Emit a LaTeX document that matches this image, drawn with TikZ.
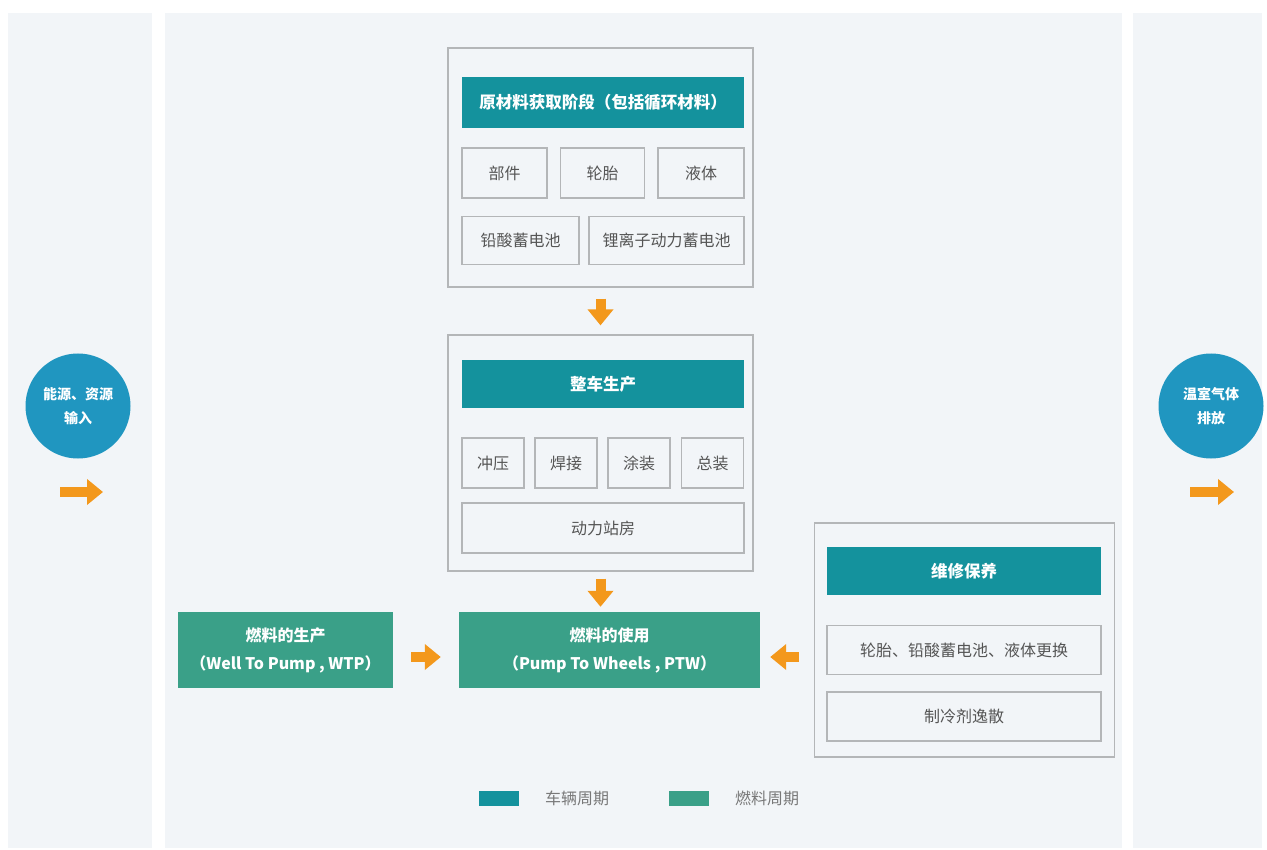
\documentclass[tikz,border=0pt]{standalone}
\usepackage{fontspec}
\setmainfont{Noto Sans CJK SC}
\usetikzlibrary{arrows.meta}
\definecolor{panel}{RGB}{242,245,248}
\definecolor{vteal}{RGB}{20,146,157}
\definecolor{fgreen}{RGB}{58,160,136}
\definecolor{cblue}{RGB}{32,150,192}
\definecolor{aorange}{RGB}{243,152,28}
\definecolor{bline}{RGB}{180,182,184}
\definecolor{tgray}{RGB}{85,85,85}
\definecolor{lgray}{RGB}{120,120,120}
\begin{document}
\begin{tikzpicture}[x=1pt,y=-1pt,
  bgpanel/.style={fill=panel,draw=none},
  outer/.style={draw=bline,line width=1.2pt,fill=panel},
  hdr/.style={fill=vteal,text=white,font=\fontsize{16.5}{20}\selectfont\bfseries,inner sep=0pt},
  item/.style={draw=bline,line width=1.2pt,fill=panel,text=tgray,font=\fontsize{16}{20}\selectfont,inner sep=0pt},
  fuel/.style={fill=fgreen,text=white,font=\fontsize{16}{28}\selectfont\bfseries,align=center,inner sep=0pt},
  circ/.style={circle,fill=cblue,text=white,minimum size=105pt,font=\fontsize{14}{24}\selectfont\bfseries,align=center,inner sep=0pt},
  flow/.style={draw=aorange,line width=10pt,-{Triangle[length=16pt,width=25pt]}},
  legtext/.style={text=lgray,font=\fontsize{16}{20}\selectfont,anchor=west,inner sep=0pt},
]
\useasboundingbox (0,0) rectangle (1267,850);
\fill[white] (0,0) rectangle (1267,850);
% background panels
\fill[bgpanel] (8,13) rectangle (152,848);
\fill[bgpanel] (165,13) rectangle (1122,848);
\fill[bgpanel] (1133,13) rectangle (1262,848);

% top group
\node[outer,minimum width=305pt,minimum height=239pt] (top) at (600.5,167.5) {};
\node[hdr,minimum width=282pt,minimum height=51pt] (raw) at (603,102.5) {原材料获取阶段（包括循环材料）};
\node[item,minimum width=85pt,minimum height=50pt] (bj) at (504.5,173) {部件};
\node[item,minimum width=84pt,minimum height=50pt] (lt) at (602.5,173) {轮胎};
\node[item,minimum width=86pt,minimum height=50pt] (yt) at (701,173) {液体};
\node[item,minimum width=117pt,minimum height=48pt] (qs) at (520.5,240.5) {铅酸蓄电池};
\node[item,minimum width=155pt,minimum height=48pt] (li) at (666.5,240.5) {锂离子动力蓄电池};

% middle group
\node[outer,minimum width=305pt,minimum height=236pt] (mid) at (600.5,453) {};
\node[hdr,minimum width=282pt,minimum height=48pt] (zc) at (603,384) {整车生产};
\node[item,minimum width=62pt,minimum height=50pt] (cy) at (493,463) {冲压};
\node[item,minimum width=62pt,minimum height=50pt] (hj) at (566,463) {焊接};
\node[item,minimum width=62pt,minimum height=50pt] (tz) at (639,463) {涂装};
\node[item,minimum width=62pt,minimum height=50pt] (zz) at (712.5,463) {总装};
\node[item,minimum width=282pt,minimum height=50pt] (dl) at (603,528) {动力站房};

% fuel row
\node[fuel,minimum width=215pt,minimum height=76pt] (wtp) at (285.5,650) {燃料的生产\\（Well To Pump , WTP）};
\node[fuel,minimum width=301pt,minimum height=76pt] (use) at (609.5,650) {燃料的使用\\（Pump To Wheels , PTW）};

% maintenance group
\node[outer,minimum width=300pt,minimum height=234pt] (mt) at (964.5,640) {};
\node[hdr,minimum width=274pt,minimum height=48pt] (wx) at (964,571) {维修保养};
\node[item,minimum width=274pt,minimum height=49pt] (gh) at (964,650) {轮胎、铅酸蓄电池、液体更换};
\node[item,minimum width=274pt,minimum height=49pt] (zl) at (964,716.5) {制冷剂逸散};

% circles
\node[circ] (inp) at (78,406) {能源、资源\\输入};
\node[circ] (outp) at (1211,406) {温室气体\\排放};
\coordinate (inA) at (60,492);
\coordinate (inB) at (103,492);
\coordinate (outA) at (1190,492);
\coordinate (outB) at (1234,492);
\coordinate (useE) at ([yshift=-7pt]use.east);

% connectors
\draw[flow,shorten <=11pt,shorten >=9pt] (top.south) -- (mid.north);
\draw[flow,shorten <=7pt,shorten >=5pt] (mid.south) -- (use.north -| mid.south);
\draw[flow,shorten <=18pt,shorten >=18pt] ([yshift=-7pt]wtp.east) -- ([yshift=-7pt]use.west);
\draw[flow,shorten <=15pt,shorten >=10pt] (mt.west |- useE) -- (useE);
\draw[flow] (inA) -- (inB);
\draw[flow] (outA) -- (outB);

% legend
\node[fill=vteal,minimum width=40pt,minimum height=15pt,inner sep=0pt] (lg1) at (499,798.5) {};
\node[legtext] (lt1) at (545,798.5) {车辆周期};
\node[fill=fgreen,minimum width=40pt,minimum height=15pt,inner sep=0pt] (lg2) at (689,798.5) {};
\node[legtext] (lt2) at (735,798.5) {燃料周期};
\end{tikzpicture}
\end{document}
